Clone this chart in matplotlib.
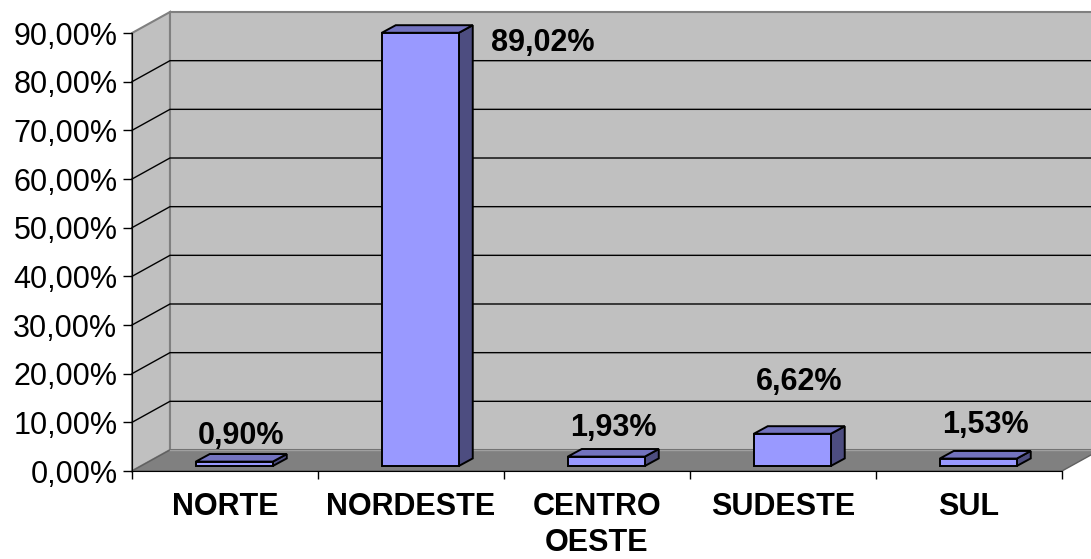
import numpy as np
from matplotlib import pyplot as plt
from matplotlib.patches import Polygon

regioes = ["NORTE", "NORDESTE", "CENTRO\nOESTE", "SUDESTE", "SUL"]
percentuais = [0.90, 89.02, 1.93, 6.62, 1.53]
rotulos = ["0,90%", "89,02%", "1,93%", "6,62%", "1,53%"]
y_ticks = [0, 10, 20, 30, 40, 50, 60, 70, 80, 90]

plt.rcParams['font.family'] = ['Liberation Sans', 'DejaVu Sans']

fig = plt.figure(figsize=(10.91, 5.59), dpi=100)
ax = fig.add_axes([0.121, 0.1574, 0.8524, 0.7835])
ax.set_xlim(0, 5)
ax.set_ylim(0, 90)

# 3d look: depth of the floor/wall and of the bars (data units)
dx, dy = 0.204, 4.32
bdx, bdy = 0.075, 1.56
bx_off, by_off = 0.05, 1.03
largura = 0.414

# paredes
wall = "#c0c0c0"
edge = "#808080"
ax.add_patch(Polygon([(dx, dy), (5 + dx, dy), (5 + dx, 90 + dy), (dx, 90 + dy)],
                     closed=True, fc=wall, ec=edge, lw=1.5, clip_on=False, zorder=0))
ax.add_patch(Polygon([(0, 0), (dx, dy), (dx, 90 + dy), (0, 90)],
                     closed=True, fc=wall, ec=edge, lw=1.5, clip_on=False, zorder=0))
for v in y_ticks[1:-1]:
    ax.plot([0, dx, 5 + dx], [v, v + dy, v + dy], c="black", lw=1, clip_on=False, zorder=0.5)
# piso
ax.add_patch(Polygon([(0, 0), (5, 0), (5 + dx, dy), (dx, dy)],
                     closed=True, fc="#808080", ec="#606060", lw=1, clip_on=False, zorder=0.6))
ax.plot([dx, 5 + dx], [dy, dy], c="#a0a0a0", lw=1, clip_on=False, zorder=0.7)

# barras
for i, v in enumerate(percentuais):
    x0 = i + 0.5 + bx_off - largura / 2
    b = by_off
    frente = [(x0, b), (x0 + largura, b), (x0 + largura, b + v), (x0, b + v)]
    topo = [(x0, b + v), (x0 + largura, b + v), (x0 + largura + bdx, b + v + bdy), (x0 + bdx, b + v + bdy)]
    lado = [(x0 + largura, b), (x0 + largura + bdx, b + bdy), (x0 + largura + bdx, b + v + bdy), (x0 + largura, b + v)]
    ax.add_patch(Polygon(lado, closed=True, fc="#4d4d80", ec="black", lw=1.4, zorder=3, clip_on=False))
    ax.add_patch(Polygon(topo, closed=True, fc="#7373bf", ec="black", lw=1.4, zorder=3, clip_on=False))
    ax.add_patch(Polygon(frente, closed=True, fc="#9999ff", ec="black", lw=1.4, zorder=3, clip_on=False))

# rotulos de dados
subida = [5.3, 0, 5.9, 10.7, 6.9]
maior = int(np.argmax(percentuais))
for i, v in enumerate(percentuais):
    xc = i + 0.5 + bx_off + bdx / 2
    if i == maior:
        ax.text(xc + 0.62, v - 2.1 + by_off, rotulos[i], ha="center", va="center",
                fontsize=22, fontweight="bold", zorder=4)
    else:
        ax.text(xc, v + by_off + subida[i], rotulos[i], ha="center", va="center",
                fontsize=22, fontweight="bold", zorder=4)

# eixos
for s in ["top", "right"]:
    ax.spines[s].set_visible(False)
ax.spines["left"].set_color("black")
ax.spines["bottom"].set_color("black")
ax.set_yticks(y_ticks)
ax.set_yticklabels([f"{t:.2f}".replace(".", ",") + "%" for t in y_ticks], fontsize=22)
ax.tick_params(axis="y", length=6.5, width=1, pad=4)
ax.set_xticks(np.arange(5) + 0.5)
ax.set_xticklabels(regioes, fontsize=22, fontweight="bold", linespacing=1.25)
ax.set_xticks(np.arange(6), minor=True)
ax.tick_params(axis="x", which="major", length=0, pad=15)
ax.tick_params(axis="x", which="minor", length=6, width=1)
ax.set_facecolor("none")

plt.savefig("out.png", dpi=100)
